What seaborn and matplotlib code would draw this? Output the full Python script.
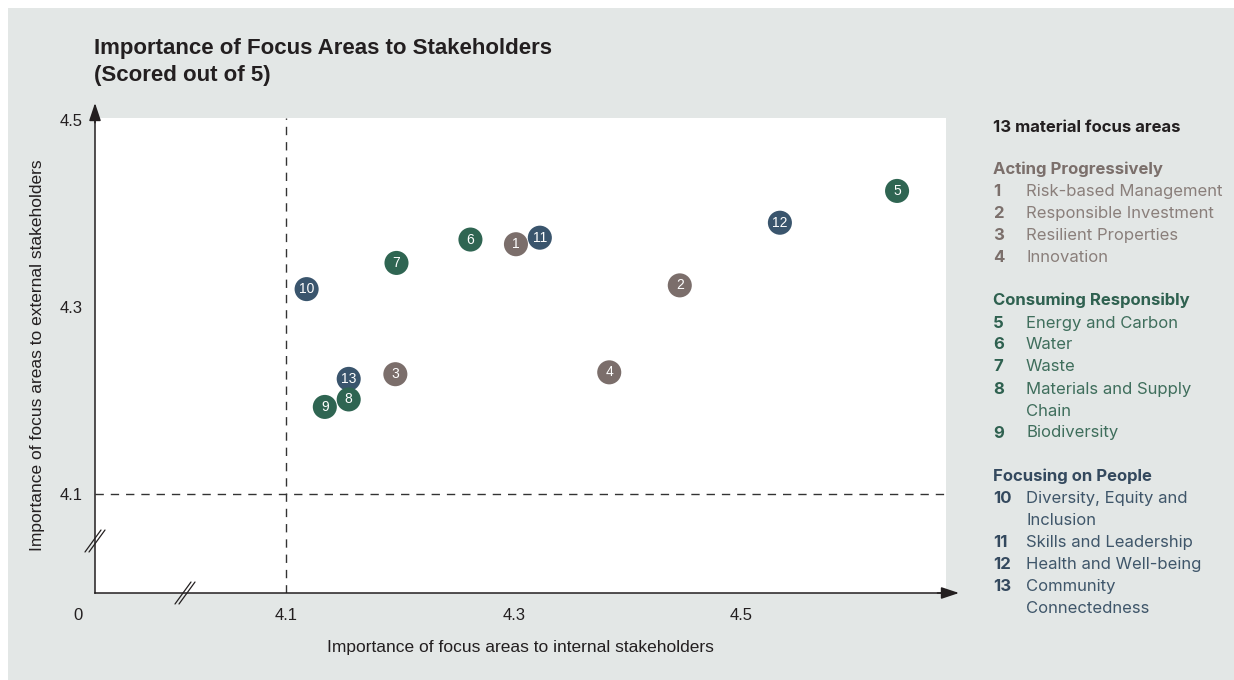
import numpy as np
import pandas as pd
import matplotlib
matplotlib.use("Agg")
import matplotlib.pyplot as plt
import seaborn as sns
from matplotlib.patches import Rectangle

# ---------------- data ----------------
ids = [1, 2, 3, 4, 5, 6, 7, 8, 9, 10, 11, 12, 13]
internal = [4.302, 4.446, 4.196, 4.384, 4.637, 4.262, 4.197, 4.155, 4.134, 4.118, 4.323, 4.534, 4.155]
external = [4.367, 4.323, 4.228, 4.230, 4.424, 4.372, 4.347, 4.201, 4.193, 4.319, 4.374, 4.390, 4.223]
groups = (["Acting Progressively"] * 4 + ["Consuming Responsibly"] * 5
          + ["Focusing on People"] * 4)

group_names = ["Acting Progressively", "Consuming Responsibly", "Focusing on People"]
group_items = [
    [("1", ["Risk-based Management"]), ("2", ["Responsible Investment"]),
     ("3", ["Resilient Properties"]), ("4", ["Innovation"])],
    [("5", ["Energy and Carbon"]), ("6", ["Water"]), ("7", ["Waste"]),
     ("8", ["Materials and Supply", "Chain"]), ("9", ["Biodiversity"])],
    [("10", ["Diversity, Equity and", "Inclusion"]), ("11", ["Skills and Leadership"]),
     ("12", ["Health and Well-being"]), ("13", ["Community", "Connectedness"])],
]
legend_title = "13 material focus areas"

x_ticks = [4.1, 4.3, 4.5]
y_ticks = [4.1, 4.3, 4.5]
threshold_x = 4.1
threshold_y = 4.1
title_lines = ["Importance of Focus Areas to Stakeholders", "(Scored out of 5)"]
x_label = "Importance of focus areas to internal stakeholders"
y_label = "Importance of focus areas to external stakeholders"

# ---------------- style ----------------
BG = "#e3e7e6"
INK = "#231f20"
marker_colors = {"Acting Progressively": "#7b6e6b",
                 "Consuming Responsibly": "#2f6552",
                 "Focusing on People": "#3a556d"}
head_colors = {"Acting Progressively": "#7b6f6b",
               "Consuming Responsibly": "#2f6150",
               "Focusing on People": "#34495e"}
item_colors = {"Acting Progressively": "#8a7f7b",
               "Consuming Responsibly": "#3f6e5c",
               "Focusing on People": "#3f566a"}

sns.set_theme(style="white")
plt.rcParams["font.family"] = ["Liberation Sans", "DejaVu Sans"]

W, H = 1234, 680
fig = plt.figure(figsize=(W / 100, H / 100), dpi=100, facecolor="white")
fig.patches.append(Rectangle((8 / W, 0), 1, 1 - 8 / H, transform=fig.transFigure,
                             facecolor=BG, edgecolor="none", zorder=-10))

ax_l, ax_r, ax_t, ax_b = 95, 946, 118, 593
ax = fig.add_axes([ax_l / W, 1 - ax_b / H, (ax_r - ax_l) / W, (ax_b - ax_t) / H])
ax.set_facecolor("white")
axw, axh = ax_r - ax_l, ax_b - ax_t

ax.set_xlim(3.932, 4.680)
ax.set_ylim(3.994, 4.502)

# threshold dashed lines
ax.axvline(threshold_x, color="#333333", lw=1.0, ls=(0, (6, 5)), zorder=1)
ax.axhline(threshold_y, color="#333333", lw=1.0, ls=(0, (6, 5)), zorder=1)

# scatter
df = pd.DataFrame({"id": ids, "internal": internal, "external": external, "group": groups})
draw_order = {"Acting Progressively": 0, "Focusing on People": 1, "Consuming Responsibly": 2}
df = df.assign(order=df["group"].map(draw_order)).sort_values(["order", "id"])
sns.scatterplot(data=df, x="internal", y="external", hue="group", palette=marker_colors,
                s=300, linewidth=0, legend=False, ax=ax, zorder=3)
for r in df.itertuples():
    ax.text(r.internal, r.external, str(r.id), color="white", ha="center", va="center",
            fontsize=10, zorder=4)

# spines / ticks
for s in ["top", "right"]:
    ax.spines[s].set_visible(False)
for s in ["left", "bottom"]:
    ax.spines[s].set_color(INK)
    ax.spines[s].set_linewidth(1.1)
ax.set_xticks(x_ticks)
ax.set_xticklabels([f"{v:.1f}" for v in x_ticks])
ax.set_yticks(y_ticks)
ax.set_yticklabels([f"{v:.1f}" for v in y_ticks])
ax.tick_params(axis="x", length=0, pad=11, labelsize=12, labelcolor=INK)
ax.tick_params(axis="y", length=0, pad=9, labelsize=12, labelcolor=INK)
ax.annotate("0", xy=(0, 0), xycoords="axes fraction", xytext=(-17, -22),
            textcoords="offset pixels", ha="center", va="center", fontsize=12, color=INK)

ax.set_xlabel(x_label, fontsize=12.5, color=INK)
ax.xaxis.set_label_coords(0.5, -0.099)
ax.set_ylabel(y_label, fontsize=12.5, color=INK)
ax.yaxis.set_label_coords(-0.059, 0.5)

# axis arrows
arrow_kw = dict(arrowstyle="-|>,head_length=1.08,head_width=0.36", color=INK, lw=1.1,
                shrinkA=0, shrinkB=0, mutation_scale=10)
ax.annotate("", xy=(1 + 13 / axw, 0), xytext=(0.99, 0), xycoords="axes fraction",
            arrowprops=arrow_kw, annotation_clip=False)
ax.annotate("", xy=(0, 1 + 15 / axh), xytext=(0, 0.99), xycoords="axes fraction",
            arrowprops=arrow_kw, annotation_clip=False)

# axis break marks
def brk(cx, cy):
    for off in (-2, 2):
        ax.plot([cx + (off - 8) / axw, cx + (off + 8) / axw],
                [cy - 11 / axh, cy + 11 / axh], color=INK, lw=0.9,
                transform=ax.transAxes, clip_on=False, zorder=5)

brk((185 - ax_l) / axw, 0)
brk(0, (ax_b - 541) / axh)

# title
fig.text(94 / W, 1 - 54 / H, title_lines[0], fontsize=16, fontweight="bold",
         color=INK, va="baseline")
fig.text(94 / W, 1 - 81 / H, title_lines[1], fontsize=16, fontweight="bold",
         color=INK, va="baseline")

# legend panel
LF = ["Inter", "DejaVu Sans"]
lfs = 12
num_x, txt_x = 993, 1026
step = 22
y = 126
fig.text(num_x / W, 1 - (y + 6) / H, legend_title, fontsize=lfs, fontweight="bold",
         color=INK, va="baseline", family=LF)
y = 168
for g, items in zip(group_names, group_items):
    fig.text(num_x / W, 1 - (y + 6) / H, g, fontsize=lfs, fontweight="bold",
             color=head_colors[g], va="baseline", family=LF)
    y += step
    for num, lines in items:
        fig.text(num_x / W, 1 - (y + 6) / H, num, fontsize=lfs, fontweight="bold",
                 color=head_colors[g], va="baseline", family=LF)
        for ln in lines:
            fig.text(txt_x / W, 1 - (y + 6) / H, ln, fontsize=lfs, color=item_colors[g],
                     va="baseline", family=LF)
            y += step
    y += step - 0.5

fig.savefig("out.png", dpi=100, facecolor=fig.get_facecolor())
